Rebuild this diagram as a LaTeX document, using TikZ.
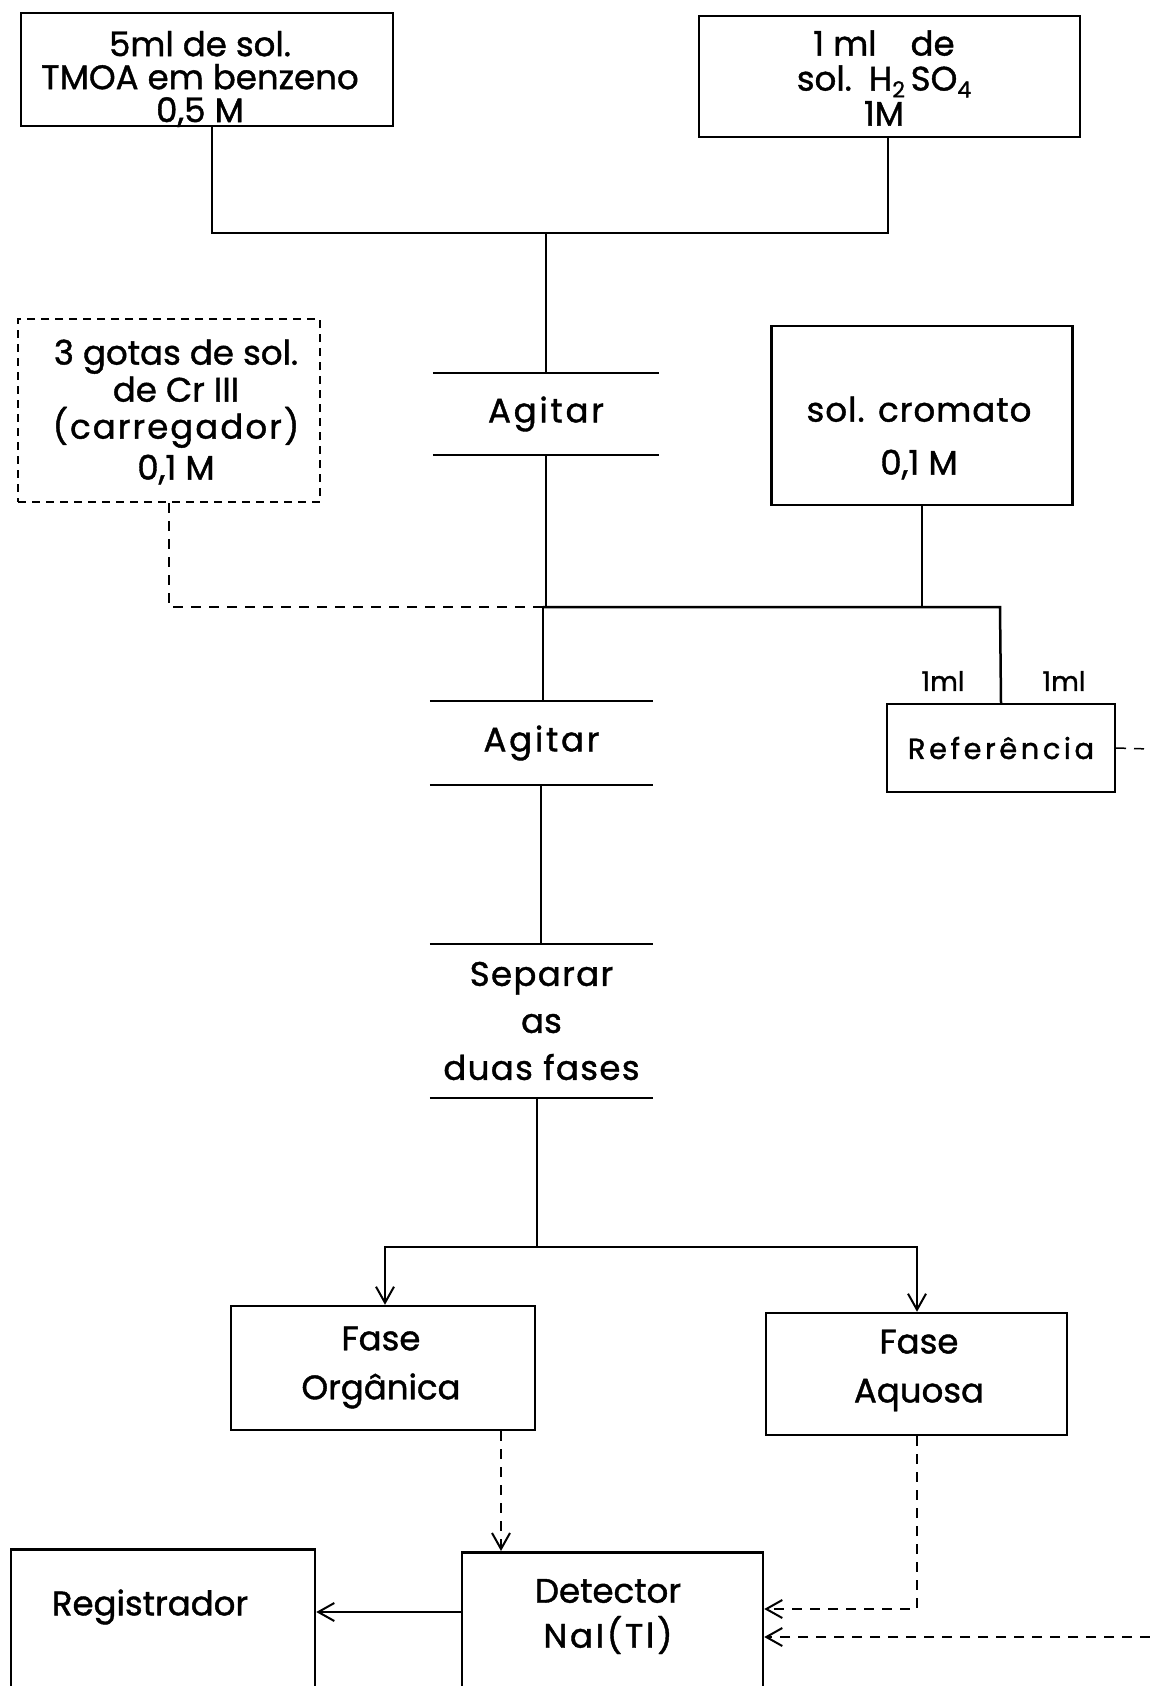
\documentclass[tikz,border=0pt]{standalone}
\usepackage{fontspec}
\setmainfont{Poppins}[FakeBold=1.2]
\usetikzlibrary{arrows.meta}
\newcommand{\subn}[1]{\raisebox{-0.2em}{\fontsize{22}{22}\selectfont #1}}
\begin{document}
\begin{tikzpicture}[x=1pt,y=-1pt,
  box/.style={draw,line width=2.5pt,inner sep=0pt},
  dbox/.style={box,line width=2pt,dash pattern=on 8pt off 6pt},
  txt/.style={inner sep=0pt,align=center,font=\fontsize{34}{33}\selectfont},
  sm/.style={inner sep=0pt,font=\fontsize{27}{27}\selectfont},
  ln/.style={line width=2.5pt},
  dln/.style={line width=2pt,dash pattern=on 10pt off 8pt},
  arr/.style={-{Straight Barb[length=16pt,width=18pt,line width=2pt]}}]
\clip (0,0) rectangle (1150,1686);
\fill[white] (0,0) rectangle (1150,1686);
% boxes
\node[box,minimum width=372,minimum height=113] (b1) at (207,69.5) {};
\node[txt] (b1t) at (200,79) {5ml de sol.\\TMOA em benzeno\\0,5 M};
\node[box,minimum width=381,minimum height=121] (b2) at (889.5,76.5) {};
\node[txt,font=\fontsize{34}{35}\selectfont] (b2t) at (884,78) {1 ml\quad de\\sol.\enspace H\subn{2}\,SO\subn{4}\\1M};
\node[dbox,minimum width=302,minimum height=183] (cr) at (169,410.5) {};
\node[txt,font=\fontsize{34}{37}\selectfont] (crt) at (176,412) {3 gotas de sol.\\de Cr III\\{\addfontfeature{LetterSpace=6}(carregador)}\\[4pt]0,1 M};
\node[box,minimum width=301,minimum height=179] (crom) at (922,415.5) {};
\node[txt,font=\fontsize{34}{53}\selectfont] (cromt) at (919,438) {{\addfontfeature{LetterSpace=3}sol. cromato}\\0,1 M};
% Agitar 1
\node[txt,minimum width=226,minimum height=82] (ag1) at (546,414) {\addfontfeature{LetterSpace=8}Agitar};
\draw[ln] (ag1.north west) -- (ag1.north east) (ag1.south west) -- (ag1.south east);
% Agitar 2
\node[txt,minimum width=223,minimum height=84] (ag2) at (541.5,743) {\addfontfeature{LetterSpace=8}Agitar};
\draw[ln] (ag2.north west) -- (ag2.north east) (ag2.south west) -- (ag2.south east);
% Separar
\node[txt,minimum width=223,minimum height=154,font=\fontsize{34}{47}\selectfont] (sep) at (541.5,1021) {{\addfontfeature{LetterSpace=4}Separar}\\as\\{\addfontfeature{LetterSpace=4}duas fases}};
\draw[ln] (sep.north west) -- (sep.north east) (sep.south west) -- (sep.south east);
% Referencia
\node[box,line width=2pt,minimum width=228,minimum height=88,inner sep=0pt,font=\fontsize{29}{29}\selectfont] (ref) at (1001,748) {\addfontfeature{LetterSpace=12}Referência};
\node[sm] (ml1) at (943,681) {1ml};
\node[sm] (ml2) at (1064,681) {1ml};
% Fases
\node[box,minimum width=304,minimum height=124] (org) at (383,1368) {};
\node[txt,font=\fontsize{34}{49}\selectfont] (orgt) at (381,1367.5) {Fase\\Orgânica};
\node[box,minimum width=301,minimum height=122] (aq) at (916.5,1374) {};
\node[txt,font=\fontsize{34}{49}\selectfont] (aqt) at (919,1370.5) {Fase\\Aquosa};
% Detector and Registrador
\node[box,minimum width=301,minimum height=150,anchor=north] (det) at (612.5,1551) {};
\node[txt,font=\fontsize{34}{45}\selectfont] (dett) at (608,1616.5) {Detector\\{\addfontfeature{LetterSpace=8}NaI(Tl)}};
\node[box,minimum width=304,minimum height=150,anchor=north] (reg) at (163,1548) {};
\node[txt] (regt) at (150,1607) {Registrador};
% junction coordinates
\coordinate (j1) at (546,233);
\coordinate (j2) at (543,607);
\coordinate (j3) at (1000,607);
\coordinate (j4) at (537,1247);
\coordinate (re) at (1150,749);
\coordinate (aqc) at (917,1609);
\coordinate (ext) at (1150,1637);
% connectors
\draw[ln] (b1.south -| 212,0) -- (212,233) -- (888,233) -- (b2.south -| 888,0);
\draw[ln] (j1) -- (ag1.north);
\draw[ln] (ag1.south) -- (ag1.south |- j2);
\draw[ln] (j2) -- (ag2.north -| j2);
\draw[ln] (j2) -- (j3) -- (ref.north);
\draw[ln] (crom.south) -- (crom.south |- j2);
\draw[dln] (cr.south) -- (cr.south |- j2) -- (j2);
\draw[dln,line width=1.5pt] (ref.east) -- (re);
\draw[ln] (ag2.south -| 541,0) -- (sep.north -| 541,0);
\draw[ln] (sep.south -| 537,0) -- (j4);
\draw[ln,arr] (j4) -- (385,1247) -- (org.north -| 385,0);
\draw[ln,arr] (j4) -- (917,1247) -- (aq.north -| 917,0);
\draw[dln,arr] (org.south -| 501,0) -- (det.north -| 501,0);
\draw[dln,arr] (aq.south -| aqc) -- (aqc) -- (det.east |- aqc);
\draw[dln,arr] (ext) -- (det.east |- ext);
\draw[ln,arr] (det.west |- 0,1612) -- (reg.east |- 0,1612);
\end{tikzpicture}
\end{document}
